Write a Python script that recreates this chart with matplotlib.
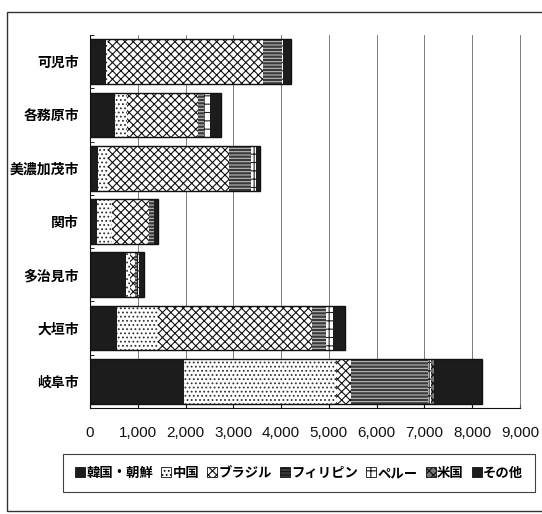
import numpy as np
import matplotlib
matplotlib.use('Agg')
import matplotlib.pyplot as plt
from matplotlib.patches import Rectangle, Patch

plt.rcParams['font.family'] = ['Noto Sans CJK JP', 'DejaVu Sans']
plt.rcParams['hatch.linewidth'] = 0.8

cities = ['可児市', '各務原市', '美濃加茂市', '関市', '多治見市', '大垣市', '岐阜市']
korea = [330, 530, 175, 140, 750, 560, 1970]
china = [40, 250, 195, 315, 90, 870, 3180]
brazil = [3260, 1490, 2545, 785, 105, 3215, 320]
philippines = [390, 125, 455, 90, 40, 295, 1600]
peru = [10, 120, 105, 0, 40, 140, 60]
usa = [10, 0, 0, 0, 0, 0, 80]
other = [170, 225, 90, 100, 105, 265, 1000]

series = ['韓国・朝鮮', '中国', 'ブラジル', 'フィリピン', 'ペルー', '米国', 'その他']
values = [korea, china, brazil, philippines, peru, usa, other]
# (facecolor, hatch, hatch colour)
styles = [('#1c1c1c', None, '#1c1c1c'),
          ('white', '....', '#333333'),
          ('white', 'xxxx', '#111111'),
          ('#3a3a3a', '-----', '#bbbbbb'),
          ('white', '++', '#222222'),
          ('#777777', 'xxxx', '#111111'),
          ('#1c1c1c', None, '#1c1c1c')]

fig = plt.figure(figsize=(5.42, 5.14), dpi=100)
ax = fig.add_axes([90 / 542, 1 - 408 / 514, 430 / 542, 373 / 514])

y = np.arange(len(cities))
left = np.zeros(len(cities))
handles = []
for name, vals, (fc, hatch, hc) in zip(series, values, styles):
    vals = np.array(vals, dtype=float)
    ax.barh(y, vals, left=left, height=0.84, color=fc, hatch=hatch,
            edgecolor=hc, linewidth=0, zorder=3)
    left += vals
    handles.append(Patch(facecolor=fc, hatch=hatch, edgecolor=hc, linewidth=0))
# outline around each stacked bar
ax.barh(y, left, height=0.84, fill=False, edgecolor='#111111', linewidth=1.0, zorder=4)

ax.set_xlim(0, 9000)
ax.set_ylim(6.5, -0.5)
ax.set_xticks(np.arange(0, 9001, 1000))
ax.set_xticklabels([f'{v:,}' for v in range(0, 9001, 1000)],
                   family=['Liberation Sans', 'DejaVu Sans'], fontsize=11)
ax.tick_params(axis='x', length=3, direction='in', pad=13, colors='#111111')
ax.set_yticks(y)
ax.set_yticklabels(cities, fontsize=10, fontweight='bold')
ax.tick_params(axis='y', length=0, pad=8)
ax.set_yticks(np.arange(-0.5, 6.6, 1), minor=True)
ax.tick_params(axis='y', which='minor', length=3, direction='in')
ax.grid(axis='x', color='#666666', linewidth=0.6, zorder=0)
ax.spines['top'].set_visible(False)
ax.spines['right'].set_color('#666666')
ax.spines['right'].set_linewidth(0.6)
ax.spines['left'].set_color('#111111')
ax.spines['bottom'].set_color('#111111')

leg = fig.legend(handles, series, loc='center', bbox_to_anchor=(299 / 542, 1 - 473 / 514),
                 ncol=7, frameon=True, fancybox=False, edgecolor='#111111',
                 handlelength=0.75, handleheight=0.75, handletextpad=0.1,
                 columnspacing=0.6, borderpad=0.9,
                 prop={'size': 9.6, 'weight': 'bold', 'family': ['Noto Sans CJK JP', 'DejaVu Sans']})
leg.get_frame().set_linewidth(0.8)
for h in leg.legend_handles:
    h.set_edgecolor('#111111')
    h.set_linewidth(0.6)

# outer frame of the figure
fig.patches.append(Rectangle((7 / 542, 1 - 511 / 514), 560 / 542, 499 / 514,
                             transform=fig.transFigure, fill=False,
                             edgecolor='#333333', linewidth=1.0))

fig.savefig('out.png', dpi=100)
